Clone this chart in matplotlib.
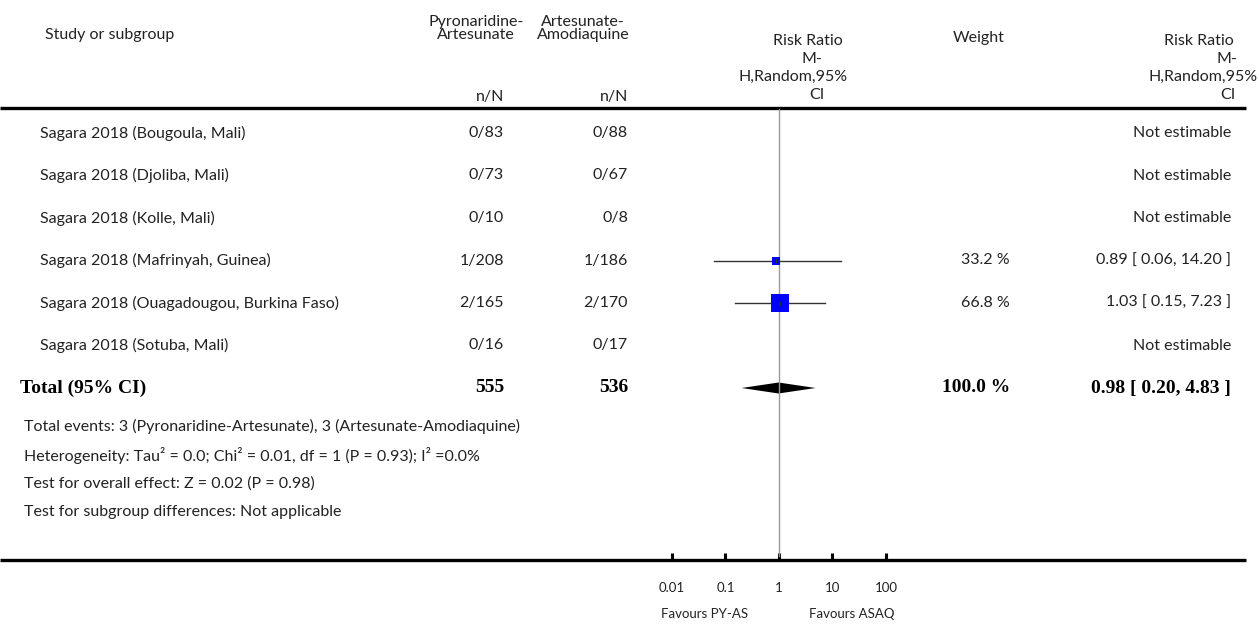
import numpy as np
import matplotlib
matplotlib.use("Agg")
import matplotlib.pyplot as plt
from matplotlib.ticker import FixedLocator, FixedFormatter

# studies and counts
studies = ["Sagara 2018 (Bougoula, Mali)", "Sagara 2018 (Djoliba, Mali)",
           "Sagara 2018 (Kolle, Mali)", "Sagara 2018 (Mafrinyah, Guinea)",
           "Sagara 2018 (Ouagadougou, Burkina Faso)", "Sagara 2018 (Sotuba, Mali)"]
pa_n = [0, 0, 0, 1, 2, 0]
pa_N = [83, 73, 10, 208, 165, 16]
aq_n = [0, 0, 0, 1, 2, 0]
aq_N = [88, 67, 8, 186, 170, 17]
rr = [np.nan, np.nan, np.nan, 0.89, 1.03, np.nan]
rr_lo = [np.nan, np.nan, np.nan, 0.06, 0.15, np.nan]
rr_hi = [np.nan, np.nan, np.nan, 14.20, 7.23, np.nan]
weight = [np.nan, np.nan, np.nan, 33.2, 66.8, np.nan]

total_pa = 555
total_aq = 536
total_rr, total_lo, total_hi = 0.98, 0.20, 4.83
total_weight = 100.0

footnotes = ["Total events: 3 (Pyronaridine-Artesunate), 3 (Artesunate-Amodiaquine)",
             "Heterogeneity: Tau\u00b2 = 0.0; Chi\u00b2 = 0.01, df = 1 (P = 0.93); I\u00b2 =0.0%",
             "Test for overall effect: Z = 0.02 (P = 0.98)",
             "Test for subgroup differences: Not applicable"]
scale_ticks = [0.01, 0.1, 1, 10, 100]
scale_labels = ["0.01", "0.1", "1", "10", "100"]

W, H = 1259, 626
fig = plt.figure(figsize=(W / 100, H / 100), dpi=100)
ax = fig.add_axes([0, 0, 1, 1])
ax.set_xlim(0, W)
ax.set_ylim(H, 0)
ax.axis("off")

sans = "Lato"
serif = "Liberation Serif"
fs = 11.5
bfs = 14
tc = "#222222"


def txt(x, y, s, ha="left", **kw):
    kw.setdefault("fontsize", fs)
    kw.setdefault("family", sans)
    kw.setdefault("color", tc)
    ax.text(x, y, s, ha=ha, va="center", **kw)


# header
txt(110, 35, "Study or subgroup", ha="center")
txt(476, 22, "Pyronaridine-", ha="center")
txt(476, 35, "Artesunate", ha="center")
txt(583, 22, "Artesunate-", ha="center")
txt(583, 35, "Amodiaquine", ha="center")
txt(504, 97, "n/N", ha="right")
txt(628, 97, "n/N", ha="right")
txt(808, 41, "Risk Ratio", ha="center")
txt(812, 59, "M-", ha="center")
txt(793, 77, "H,Random,95%", ha="center")
txt(817, 95, "CI", ha="center")
txt(1199, 41, "Risk Ratio", ha="center")
txt(1227, 59, "M-", ha="center")
txt(1258, 77, "H,Random,95%", ha="right")
txt(1228, 95, "CI", ha="center")
txt(979, 38, "Weight", ha="center")
ax.plot([0, 1246], [108, 108], color="black", lw=2.4, solid_capstyle="butt")

row_y = [133, 175.5, 218, 260.5, 303, 345.5]
total_y = 388
foot_y = [426, 455, 484, 512]

for i, y in enumerate(row_y):
    txt(40, y, studies[i])
    txt(504, y, f"{pa_n[i]}/{pa_N[i]}", ha="right")
    txt(628, y, f"{aq_n[i]}/{aq_N[i]}", ha="right")
    if np.isnan(rr[i]):
        txt(1231, y, "Not estimable", ha="right")
    else:
        txt(1010, y, f"{weight[i]:.1f} %", ha="right")
        txt(1231, y, f"{rr[i]:.2f} [ {rr_lo[i]:.2f}, {rr_hi[i]:.2f} ]", ha="right")

# total row
bold = dict(fontsize=bfs, family=serif, weight="bold", color="black")
txt(20, total_y, "Total (95% CI)", **bold)
txt(504, total_y, str(total_pa), ha="right", **bold)
txt(628, total_y, str(total_aq), ha="right", **bold)
txt(1010, total_y, f"{total_weight:.1f} %", ha="right", **bold)
txt(1231, total_y, f"{total_rr:.2f} [ {total_lo:.2f}, {total_hi:.2f} ]", ha="right", **bold)

for t, y in zip(footnotes, foot_y):
    txt(24, y, t)

# bottom scale rule
ax.plot([0, 1246], [560, 560], color="black", lw=2.4, solid_capstyle="butt")

# forest panel on a log scale
fax = fig.add_axes([672 / W, 0, 214 / W, 1])
fax.set_xscale("log")
fax.set_xlim(0.01, 100)
fax.set_ylim(H, 0)
fax.patch.set_alpha(0)
for s in fax.spines.values():
    s.set_visible(False)
fax.yaxis.set_visible(False)

fax.plot([1, 1], [109, 556], color="#999999", lw=1.0)
for i, y in enumerate(row_y):
    if np.isnan(rr[i]):
        continue
    fax.plot([rr_lo[i], rr_hi[i]], [y, y], color="#333333", lw=1.0)
    side = weight[i] * 0.27 * 0.72
    fax.plot(rr[i], y, marker="s", ms=side, color="#0000ff", mec="#0000ff", mew=0)
    fax.plot([rr[i], rr[i]], [y - 1.5, y + 1.5], color="#333333", lw=0.8)

dx = [total_lo, total_rr, total_hi, total_rr]
dy = [total_y, total_y - 5.5, total_y, total_y + 5.5]
fax.fill(dx, dy, color="black", lw=0)

# ticks on the rule
fax.spines["bottom"].set_position(("data", 560))
fax.xaxis.set_ticks_position("bottom")
fax.xaxis.set_major_locator(FixedLocator(scale_ticks))
fax.xaxis.set_major_formatter(FixedFormatter(scale_labels))
fax.xaxis.set_minor_locator(FixedLocator([]))
fax.tick_params(axis="x", direction="in", length=5, width=2.2, pad=16, labelsize=9.5,
                labelcolor=tc, labelfontfamily=sans)

txt(705, 614, "Favours PY-AS", ha="center", fontsize=9.5)
txt(852, 614, "Favours ASAQ", ha="center", fontsize=9.5)

fig.savefig("out.png", dpi=100)
